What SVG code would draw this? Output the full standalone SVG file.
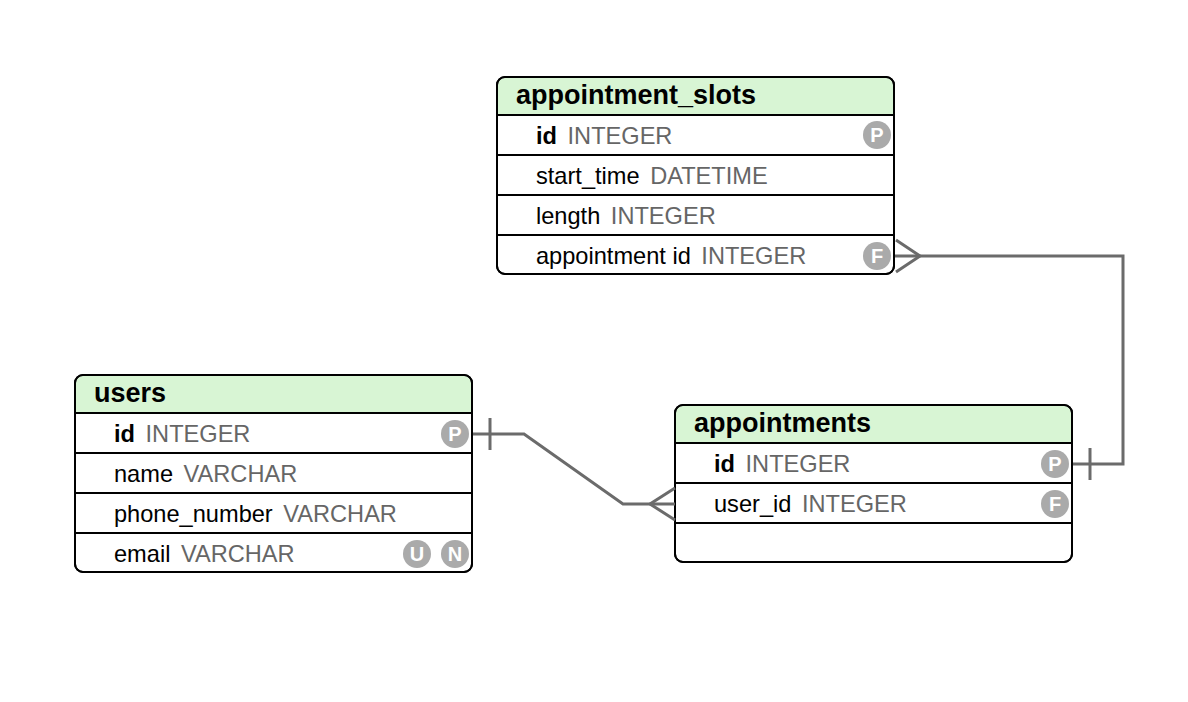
<svg xmlns="http://www.w3.org/2000/svg" width="1188" height="702" viewBox="0 0 1188 702">
<style>
.box{fill:#fff;stroke:#000;stroke-width:2}
.hdr{fill:#d8f5d4}
.sep{stroke:#000;stroke-width:2}
.title{font-family:"Liberation Sans",Arial,sans-serif;font-weight:bold;font-size:27px;fill:#000}
.row{font-family:"Liberation Sans",Arial,sans-serif;font-size:23.6px;word-spacing:4px;fill:#000}
.ws0{word-spacing:0}
.pk{font-weight:bold}
.type{fill:#666}
.badge{fill:#aaaaaa}
.bl{font-family:"Liberation Sans",Arial,sans-serif;font-weight:bold;font-size:20px;fill:#fff;text-anchor:middle}
.conn{fill:none;stroke:#6b6b6b;stroke-width:3}
</style>
<rect width="1188" height="702" fill="#fff"/>
<g id="appointment_slots">
<rect class="box" x="497" y="77" width="397" height="197" rx="8"/>
<path class="hdr" d="M505,78 H886 A7,7 0 0 1 893,85 V114 H498 V85 A7,7 0 0 1 505,78 Z"/>
<line class="sep" x1="497" y1="115" x2="894" y2="115"/>
<line class="sep" x1="497" y1="155" x2="894" y2="155"/>
<line class="sep" x1="497" y1="195" x2="894" y2="195"/>
<line class="sep" x1="497" y1="235" x2="894" y2="235"/>
<rect x="497" y="77" width="397" height="197" rx="8" fill="none" stroke="#000" stroke-width="2"/>
<text class="title" x="516" y="104">appointment_slots</text>
<text class="row" x="536" y="144"><tspan class="pk">id</tspan> <tspan class="type">INTEGER</tspan></text>
<text class="row" x="536" y="184">start_time <tspan class="type">DATETIME</tspan></text>
<text class="row" x="536" y="224">length <tspan class="type">INTEGER</tspan></text>
<text class="row" x="536" y="264"><tspan class="ws0">appointment id</tspan> <tspan class="type">INTEGER</tspan></text>
<circle class="badge" cx="877" cy="135" r="14"/><text class="bl" x="877" y="142">P</text>
<circle class="badge" cx="877" cy="256" r="14"/><text class="bl" x="877" y="263">F</text>
</g>
<g id="users">
<rect class="box" x="75" y="375" width="397" height="197" rx="8"/>
<path class="hdr" d="M83,376 H464 A7,7 0 0 1 471,383 V412 H76 V383 A7,7 0 0 1 83,376 Z"/>
<line class="sep" x1="75" y1="413" x2="472" y2="413"/>
<line class="sep" x1="75" y1="453" x2="472" y2="453"/>
<line class="sep" x1="75" y1="493" x2="472" y2="493"/>
<line class="sep" x1="75" y1="533" x2="472" y2="533"/>
<rect x="75" y="375" width="397" height="197" rx="8" fill="none" stroke="#000" stroke-width="2"/>
<text class="title" x="94" y="402">users</text>
<text class="row" x="114" y="442"><tspan class="pk">id</tspan> <tspan class="type">INTEGER</tspan></text>
<text class="row" x="114" y="482">name <tspan class="type">VARCHAR</tspan></text>
<text class="row" x="114" y="522">phone_number <tspan class="type">VARCHAR</tspan></text>
<text class="row" x="114" y="562">email <tspan class="type">VARCHAR</tspan></text>
<circle class="badge" cx="455" cy="434" r="14"/><text class="bl" x="455" y="441">P</text>
<circle class="badge" cx="417" cy="554" r="14"/><text class="bl" x="417" y="561">U</text>
<circle class="badge" cx="455" cy="554" r="14"/><text class="bl" x="455" y="561">N</text>
</g>
<g id="appointments">
<rect class="box" x="675" y="405" width="397" height="157" rx="8"/>
<path class="hdr" d="M683,406 H1064 A7,7 0 0 1 1071,413 V442 H676 V413 A7,7 0 0 1 683,406 Z"/>
<line class="sep" x1="675" y1="443" x2="1072" y2="443"/>
<line class="sep" x1="675" y1="483" x2="1072" y2="483"/>
<line class="sep" x1="675" y1="523" x2="1072" y2="523"/>
<rect x="675" y="405" width="397" height="157" rx="8" fill="none" stroke="#000" stroke-width="2"/>
<text class="title" x="694" y="432">appointments</text>
<text class="row" x="714" y="472"><tspan class="pk">id</tspan> <tspan class="type">INTEGER</tspan></text>
<text class="row" x="714" y="512">user_id <tspan class="type">INTEGER</tspan></text>
<circle class="badge" cx="1055" cy="464" r="14"/><text class="bl" x="1055" y="471">P</text>
<circle class="badge" cx="1055" cy="504" r="14"/><text class="bl" x="1055" y="511">F</text>
</g>
<g id="connectors">
<path class="conn" d="M895,256 H1123 V464 H1073"/>
<path class="conn" d="M896,240 L920,256 L896,272"/>
<line class="conn" x1="1090" y1="448" x2="1090" y2="480"/>
<path class="conn" d="M473,434 H524 L623,504 H675"/>
<line class="conn" x1="490" y1="418" x2="490" y2="450"/>
<path class="conn" d="M675,488 L650,504 L675,520"/>
</g>
</svg>
